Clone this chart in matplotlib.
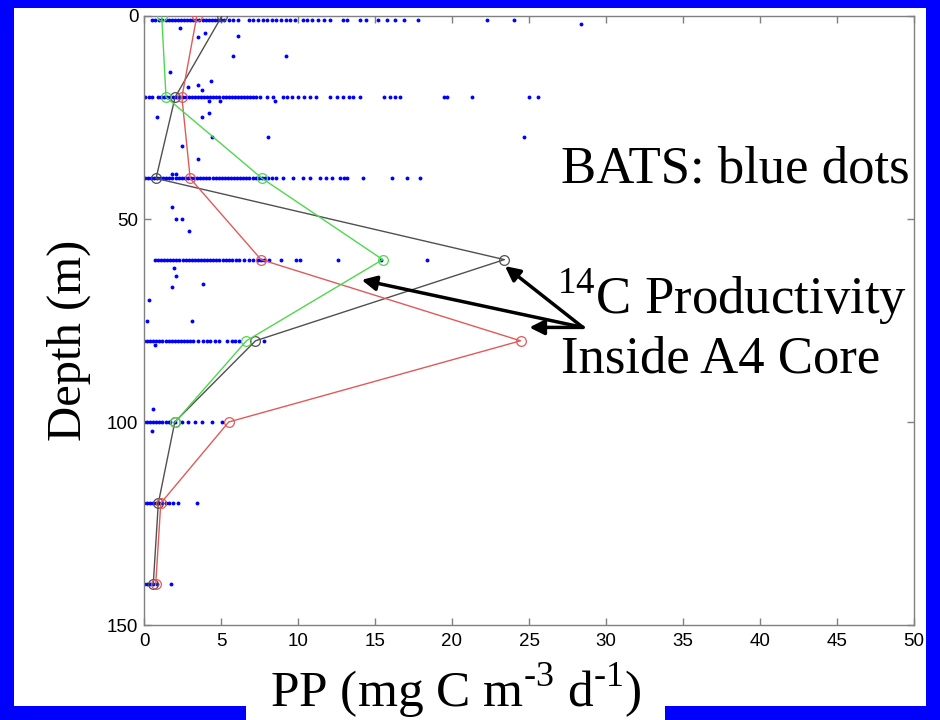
import matplotlib
matplotlib.use('Agg')
import matplotlib.pyplot as plt
from matplotlib.patches import Rectangle

plt.rcParams['mathtext.fontset'] = 'custom'
plt.rcParams['mathtext.rm'] = 'Liberation Serif'

# 14C incubation profiles inside the A4 core (three casts)
depth = [0, 20, 40, 60, 80, 100, 120, 140]
pp_green = [1.15, 1.43, 7.67, 15.5, 6.65, 2.02]
pp_red = [3.43, 2.46, 3.0, 7.6, 24.45, 5.5, 1.09, 0.76]
pp_black = [5.06, 2.02, 0.78, 23.4, 7.24, 2.0, 0.93, 0.6]

# BATS primary production, grouped by nominal sampling depth
bats_d1 = [0.5, 0.7, 1.0, 1.2, 1.4, 1.6, 1.8, 2.0, 2.2, 2.4, 2.6, 2.8, 3.0, 3.2,
           3.4, 3.6, 3.8, 4.0, 4.2, 4.4, 4.6, 4.8, 5.0, 5.2, 5.5, 5.8, 6.1, 6.8,
           7.1, 7.4, 7.7, 8.0, 8.3, 8.6, 8.9, 9.2, 9.5, 9.8, 10.3, 10.6, 10.9,
           11.3, 11.7, 12.1, 12.9, 13.2, 14.0, 14.4, 15.2, 15.8, 16.3, 16.9,
           17.8, 22.3, 24.0]
bats_d20 = [0.05, 0.3, 0.5, 0.9, 1.1, 1.3, 1.5, 1.7, 1.9, 2.1, 2.3, 2.5, 2.7,
            2.9, 3.1, 3.3, 3.5, 3.7, 3.9, 4.1, 4.3, 4.5, 4.7, 4.9, 5.1, 5.3,
            5.5, 5.7, 5.9, 6.1, 6.3, 6.5, 6.7, 6.9, 7.1, 7.3, 7.5, 8.0, 8.4,
            9.0, 9.3, 9.6, 10.0, 10.4, 10.8, 11.2, 12.1, 12.5, 12.9, 13.3,
            13.6, 14.0, 15.6, 16.0, 16.3, 16.6, 19.5, 19.7, 21.3, 25.0, 25.6]
bats_d40 = [0.05, 0.25, 0.45, 0.65, 0.85, 1.05, 1.25, 1.45, 1.65, 1.85, 2.05,
            2.25, 2.45, 2.65, 2.85, 3.05, 3.25, 3.45, 3.65, 3.85, 4.05, 4.25,
            4.45, 4.65, 4.85, 5.05, 5.25, 5.45, 5.65, 5.85, 6.05, 6.25, 6.45,
            6.65, 6.85, 7.05, 7.25, 7.45, 7.65, 7.85, 8.05, 8.3, 8.6, 9.05,
            9.7, 10.3, 10.8, 11.4, 11.8, 12.2, 12.7, 13.0, 13.2, 14.2, 16.1,
            17.1, 17.9]
bats_d60 = [0.7, 0.9, 1.1, 1.3, 1.5, 1.7, 1.9, 2.1, 2.3, 2.5, 2.7, 2.9, 3.1,
            3.3, 3.5, 3.7, 3.9, 4.1, 4.3, 4.5, 4.7, 4.9, 5.1, 5.3, 5.5, 5.7,
            6.0, 6.2, 6.5, 6.8, 7.1, 7.4, 7.6, 7.8, 8.1, 8.9, 9.9, 10.1, 12.6,
            15.4, 18.4]
bats_d80 = [0.0, 0.2, 0.4, 0.6, 0.8, 1.0, 1.2, 1.4, 1.6, 1.8, 2.0, 2.2, 2.4,
            2.6, 2.8, 3.0, 3.2, 3.5, 3.8, 4.1, 4.3, 4.6, 4.9, 5.4, 5.7, 5.9,
            6.2, 7.8]
bats_d100 = [0.0, 0.2, 0.4, 0.6, 0.8, 1.0, 1.2, 1.4, 1.6, 1.7, 2.0, 2.45,
             2.88, 3.3, 3.74, 4.4, 5.05]
bats_d120 = [0.0, 0.2, 0.4, 0.6, 0.8, 1.0, 1.2, 1.4, 1.6, 1.9, 2.2, 3.46]
bats_d140 = [0.0, 0.2, 0.4, 0.6, 0.85, 1.75]

# BATS samples taken off the nominal depths
bats_extra_x = [2.34, 3.53, 3.96, 6.12, 5.8, 9.2, 1.69, 2.83, 3.48, 3.74, 4.33,
                4.22, 4.94, 8.5, 0.82, 3.74, 4.24, 4.39, 8.07, 24.7, 2.45, 3.48,
                1.8, 2.1, 1.8, 2.1, 2.45, 2.95, 28.4, 1.97, 2.08, 1.8, 3.85,
                0.35, 0.22, 3.1, 0.71, 0.6, 0.5]
bats_extra_z = [2.9, 5.1, 4.1, 4.9, 9.85, 9.85, 13.9, 17.4, 17.1, 18.2, 16.0,
                20.9, 20.9, 20.9, 24.9, 24.9, 23.9, 29.9, 29.9, 29.8, 31.9, 35.1,
                38.9, 38.9, 47.0, 50.0, 50.0, 53.0, 2.0, 62.0, 64.0, 66.8, 66.0,
                70.0, 75.1, 75.1, 81.0, 96.8, 102.1]

rows = [(1, bats_d1), (20, bats_d20), (40, bats_d40), (60, bats_d60),
        (80, bats_d80), (100, bats_d100), (120, bats_d120), (140, bats_d140)]
bats_x = []
bats_z = []
for z, xs in rows:
    bats_x += xs
    bats_z += [z] * len(xs)
bats_x += bats_extra_x
bats_z += bats_extra_z

fig = plt.figure(figsize=(9.4, 7.2), dpi=100, facecolor='#0000ff')

# white slide panel plus the tab behind the x label
fig.patches.append(Rectangle((14 / 940, 1 - 706 / 720), 912 / 940, 698 / 720,
                             transform=fig.transFigure, facecolor='white',
                             edgecolor='none', zorder=-10))
fig.patches.append(Rectangle((246 / 940, 0), 419 / 940, 0.1,
                             transform=fig.transFigure, facecolor='white',
                             edgecolor='none', zorder=-10))

ax = fig.add_axes([144 / 940, 1 - 625 / 720, 770 / 940, 609 / 720])
ax.set_facecolor('white')

ax.plot(bats_x, bats_z, 'o', color='#0000ff', markersize=2.8,
        markeredgewidth=0, zorder=2)

line_kw = dict(marker='o', markersize=7, markerfacecolor='none', lw=1.0,
               markeredgewidth=0.9, zorder=3)
ax.plot(pp_black, depth, color='#505050', **line_kw)
ax.plot(pp_red, depth, color='#e05a5a', **line_kw)
ax.plot(pp_green, depth[:len(pp_green)], color='#4ed84e', **line_kw)

ax.set_xlim(0, 50)
ax.set_ylim(150, 0)
ax.set_xticks(range(0, 51, 5))
ax.set_yticks([0, 50, 100, 150])

tick_font = ['Liberation Sans Narrow', 'Liberation Sans', 'DejaVu Sans']
ax.tick_params(direction='in', length=5, width=1, color='#808080',
               top=True, right=True, labelsize=13.5, pad=4)
ax.tick_params(axis='x', pad=6)
for lab in ax.get_xticklabels() + ax.get_yticklabels():
    lab.set_family(tick_font)
for sp in ax.spines.values():
    sp.set_color('#808080')
    sp.set_linewidth(1.0)

serif = ['Liberation Serif', 'DejaVu Serif']
fig.text(456 / 940, 13 / 720,
         'PP (mg C m$^{\\mathrm{\u20103}}$ d$^{\\mathrm{\u20101}}$)',
         family=serif, fontsize=37, ha='center', va='baseline')
fig.text(69 / 940, 1 - 340 / 720, 'Depth (m)', family=serif, fontsize=35,
         rotation=90, ha='center', va='center')

ax.text(27.1, 41.1, 'BATS: blue dots', family=serif, fontsize=38,
        va='baseline', ha='left', clip_on=False, zorder=5)
ax.text(26.8, 73.2, r'$^{\mathrm{14}}$C Productivity', family=serif,
        fontsize=38, va='baseline', ha='left', clip_on=False, zorder=5)
ax.text(27.1, 87.7, 'Inside A4 Core', family=serif, fontsize=38,
        va='baseline', ha='left', clip_on=False, zorder=5)

arrow_tail = (28.5, 76.7)
arrow_heads = [(23.44, 61.6), (14.13, 65.0), (25.02, 76.7)]
for head in arrow_heads:
    ax.annotate('', xy=head, xytext=arrow_tail,
                arrowprops=dict(arrowstyle='-|>', color='black', lw=2.5,
                                mutation_scale=22, shrinkA=0, shrinkB=0),
                zorder=6)

fig.savefig('out.png', dpi=100, facecolor=fig.get_facecolor())
